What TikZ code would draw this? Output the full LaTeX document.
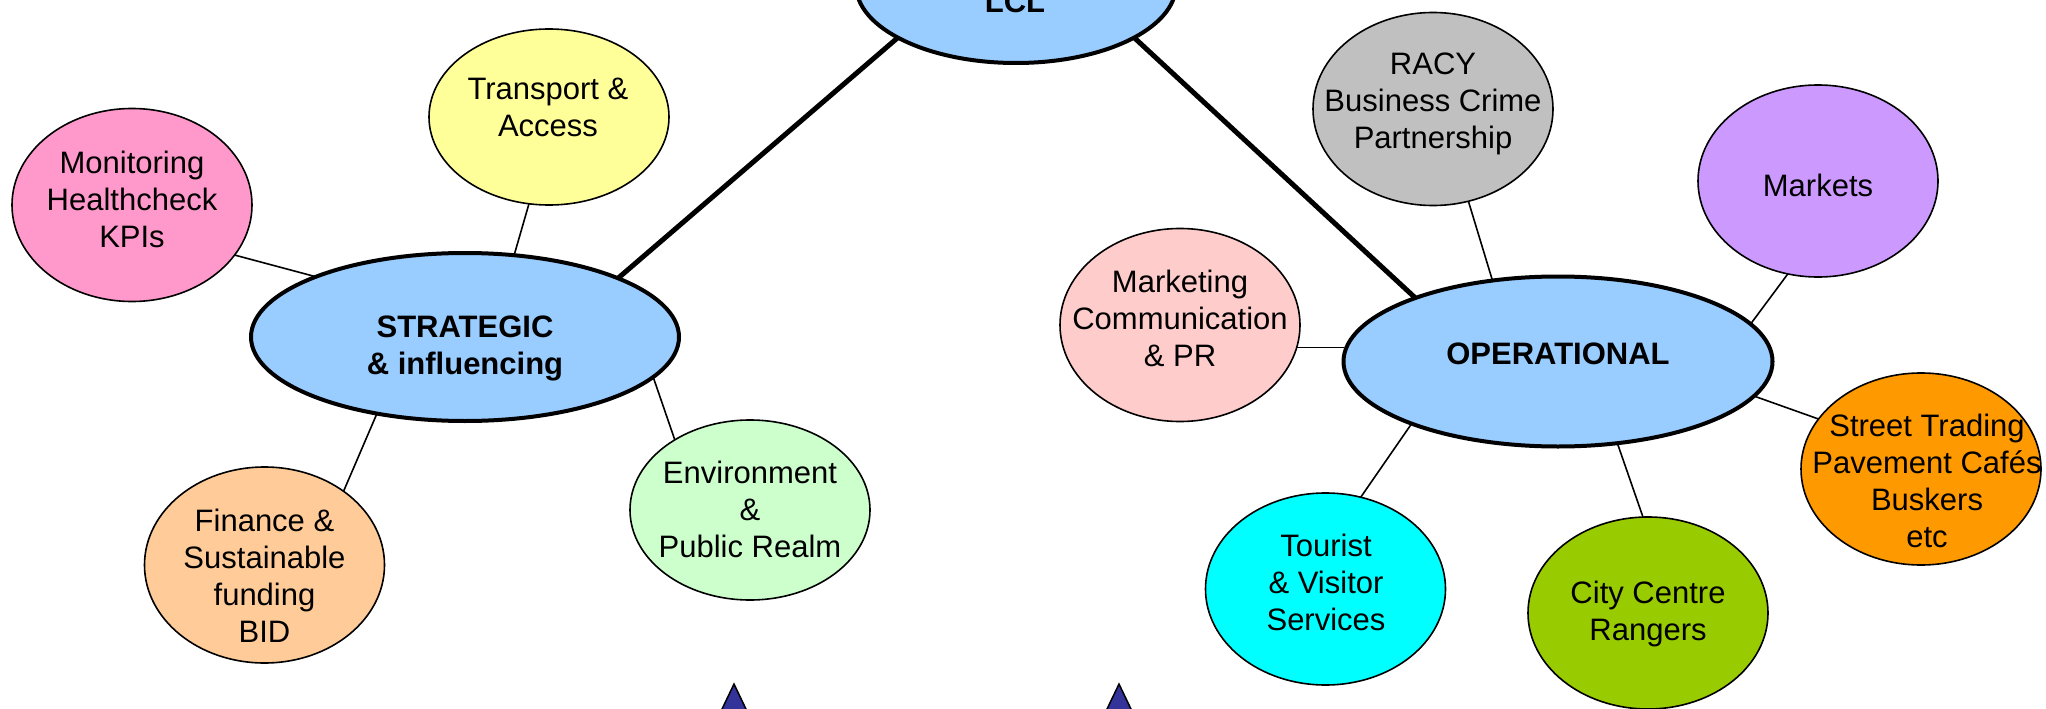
\documentclass[tikz,border=0pt]{standalone}
\usepackage{fontspec}
\setmainfont{Liberation Sans}
\usetikzlibrary{shapes.geometric}
\definecolor{mainblue}{HTML}{99CCFF}
\definecolor{cyellow}{HTML}{FFFF99}
\definecolor{cpink}{HTML}{FF99CC}
\definecolor{cpeach}{HTML}{FFCC99}
\definecolor{cmint}{HTML}{CCFFCC}
\definecolor{cgrey}{HTML}{C0C0C0}
\definecolor{cviolet}{HTML}{CC99FF}
\definecolor{crose}{HTML}{FFCCCC}
\definecolor{corange}{HTML}{FF9900}
\definecolor{ccyan}{HTML}{00FFFF}
\definecolor{cgreen}{HTML}{99CC00}
\definecolor{ctri}{HTML}{333399}
\begin{document}
\begin{tikzpicture}[x=1pt,y=-1pt,
  bub/.style={ellipse, draw=black, line width=1.6pt, inner sep=0pt, outer sep=0pt, minimum width=240pt},
  mainbub/.style={ellipse, draw=black, line width=4pt, inner sep=0pt, outer sep=0pt, fill=mainblue},
  txt/.style={align=center, font=\fontsize{31}{37}\selectfont, inner sep=0pt},
  btxt/.style={align=center, font=\fontsize{31}{37}\selectfont\bfseries, inner sep=0pt},
  thinline/.style={line width=1.6pt},
  thickline/.style={line width=5pt},
  tri/.style={fill=ctri, draw=black, line width=1.5pt, line join=miter}]
\useasboundingbox (0,0) rectangle (2046,709);
\clip (0,0) rectangle (2046,709);

% main ellipses
\node[mainbub, minimum width=320pt, minimum height=156pt] (lcl) at (1016,-15) {};
\node[mainbub, minimum width=428pt, minimum height=168pt] (str) at (465,337) {};
\node[mainbub, minimum width=429pt, minimum height=170pt] (op) at (1558,361.5) {};

% satellites
\node[bub, fill=cpink, minimum height=193pt] (mon) at (132,205) {};
\node[bub, fill=cyellow, minimum height=176pt] (tra) at (549,117) {};
\node[bub, fill=cpeach, minimum height=196pt] (fin) at (264.5,565) {};
\node[bub, fill=cmint, minimum height=180pt] (env) at (750,510) {};
\node[bub, fill=cgrey, minimum height=193pt] (racy) at (1433,109) {};
\node[bub, fill=cviolet, minimum height=192pt] (mkts) at (1818,181) {};
\node[bub, fill=crose, minimum height=193pt] (mkt) at (1180,325) {};
\node[bub, fill=corange, minimum height=192pt] (st) at (1921,469) {};
\node[bub, fill=ccyan, minimum height=192pt] (tour) at (1325.5,589) {};
\node[bub, fill=cgreen, minimum height=192pt] (city) at (1648,613) {};

% connectors
\draw[thickline] (lcl.204.4) -- (str.21.2);
\draw[thickline] (lcl.-24.6) -- (op.156.5);
\draw[thinline] (mon.-26) -- (str.158.6);
\draw[thinline] (tra.257.2) -- (str.59.2);
\draw[thinline] (str.221) -- (fin.43.6);
\draw[thinline] (str.-12.2) -- (env.137.5);
\draw[thinline] (racy.-69.6) -- (op.129.3);
\draw[thinline] (mkts.252.6) -- (op.11.2);
\draw[thinline] (mkt.-11.5) -- (mkt.-11.5 -| op.west);
\draw[thinline] (op.-10.4) -- (st.154.3);
\draw[thinline] (op.203.2) -- (tour.69.5);
\draw[thinline] (op.-54.2) -- (city.93.6);

% texts
\node[btxt, anchor=base] (lcl-t) at (1015,13) {LCL};
\node[btxt] (str-t) at (465,348) {STRATEGIC\\\& influencing};
\node[btxt] (op-t) at (1558,353.6) {OPERATIONAL};
\node[txt] (mon-t) at (132,199) {Monitoring\\Healthcheck\\KPIs};
\node[txt] (tra-t) at (548,107) {Transport \&\\Access};
\node[txt] (fin-t) at (264.5,576) {Finance \&\\Sustainable\\funding\\BID};
\node[txt] (env-t) at (750,509.5) {Environment\\\&\\Public Realm};
\node[txt] (racy-t) at (1433,104) {RACY\\Business Crime\\Partnership};
\node[txt] (mkts-t) at (1818,185) {Markets};
\node[txt] (mkt-t) at (1180,318) {Marketing\\Communication\\\& PR};
\node[txt] (st-t) at (1927,480.5) {Street Trading\\Pavement Cafés\\Buskers\\etc};
\node[txt] (tour-t) at (1326,582) {Tourist\\\& Visitor\\Services};
\node[txt] (city-t) at (1648,613.5) {City Centre\\Rangers};

% triangles at the bottom edge
\draw[tri] (734,684) -- (756,730) -- (712,730) -- cycle;
\draw[tri] (1119,684) -- (1141,730) -- (1097,730) -- cycle;
\end{tikzpicture}
\end{document}
